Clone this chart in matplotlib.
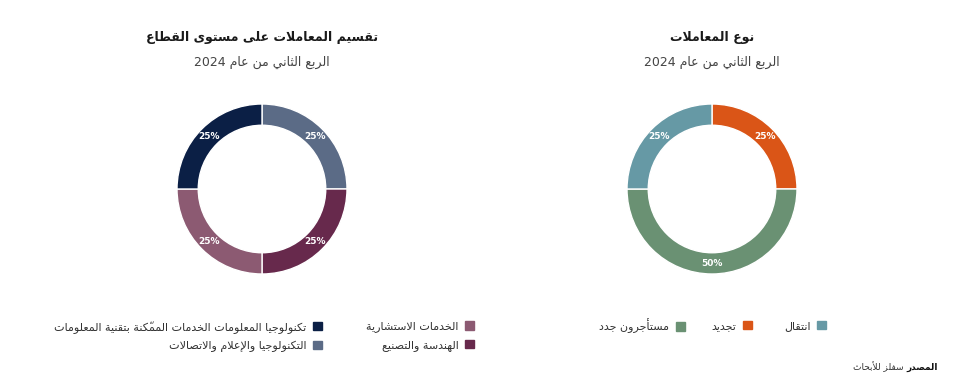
import matplotlib
matplotlib.use('Agg')
import matplotlib.pyplot as plt
from matplotlib.patches import Patch

# --- Arabic shaping: matplotlib draws glyphs left to right without joining,
# so convert to presentation forms and put the string in visual order
DUAL = {0x626: 0xFE89, 0x628: 0xFE8F, 0x62A: 0xFE95, 0x62B: 0xFE99, 0x62C: 0xFE9D,
        0x62D: 0xFEA1, 0x62E: 0xFEA5, 0x633: 0xFEB1, 0x634: 0xFEB5, 0x635: 0xFEB9,
        0x636: 0xFEBD, 0x637: 0xFEC1, 0x638: 0xFEC5, 0x639: 0xFEC9, 0x63A: 0xFECD,
        0x641: 0xFED1, 0x642: 0xFED5, 0x643: 0xFED9, 0x644: 0xFEDD, 0x645: 0xFEE1,
        0x646: 0xFEE5, 0x647: 0xFEE9, 0x64A: 0xFEF1}
RIGHT = {0x622: 0xFE81, 0x623: 0xFE83, 0x624: 0xFE85, 0x625: 0xFE87, 0x627: 0xFE8D,
         0x629: 0xFE93, 0x62F: 0xFEA9, 0x630: 0xFEAB, 0x631: 0xFEAD, 0x632: 0xFEAF,
         0x648: 0xFEED, 0x649: 0xFEEF}
LAMALEF = {0x622: 0xFEF5, 0x623: 0xFEF7, 0x625: 0xFEF9, 0x627: 0xFEFB}


def jtype(b):
    if len(b) > 1:
        return 'R'
    if ord(b) in DUAL:
        return 'D'
    if ord(b) in RIGHT:
        return 'R'
    return 'U'


def ar(text):
    clusters = []
    for ch in text:
        if 0x64B <= ord(ch) <= 0x652 and clusters:
            clusters[-1][1] += ch
        else:
            clusters.append([ch, ''])
    merged = []
    i = 0
    while i < len(clusters):
        b, m = clusters[i]
        if b == '\u0644' and i + 1 < len(clusters) and ord(clusters[i + 1][0]) in LAMALEF:
            merged.append(['L' + clusters[i + 1][0], m + clusters[i + 1][1]])
            i += 2
        else:
            merged.append([b, m])
            i += 1
    out = []
    n = len(merged)
    for i, (b, m) in enumerate(merged):
        t = jtype(b)
        prev = i > 0 and jtype(merged[i - 1][0]) == 'D' and t in 'DR'
        nxt = t == 'D' and i + 1 < n and jtype(merged[i + 1][0]) in 'DR'
        if len(b) > 1:
            g = chr(LAMALEF[ord(b[1])] + (1 if prev else 0))
        elif t == 'D':
            g = chr(DUAL[ord(b)] + (3 if prev and nxt else 2 if nxt else 1 if prev else 0))
        elif t == 'R':
            g = chr(RIGHT[ord(b)] + (1 if prev else 0))
        else:
            g = b
        out.append(g + m)
    # keep runs of latin digits in their own order
    tokens = []
    for tok in out:
        if tok.isascii() and tok.isalnum() and tokens and tokens[-1].isascii() and tokens[-1].isalnum():
            tokens[-1] += tok
        else:
            tokens.append(tok)
    return ''.join(reversed(tokens))


# --- data
sector_labels = ['التكنولوجيا والإعلام والاتصالات', 'الهندسة والتصنيع',
                 'الخدمات الاستشارية',
                 'تكنولوجيا المعلومات الخدمات الممكّنة بتقنية المعلومات']
sector_values = [25, 25, 25, 25]
sector_colors = ['#5b6b86', '#67294c', '#8c5a72', '#0b1f45']

type_labels = ['تجديد', 'مستأجرون جدد', 'انتقال']
type_values = [25, 50, 25]
type_colors = ['#da5517', '#6a9173', '#6699a5']

title_sector = 'تقسيم المعاملات على مستوى القطاع'
title_type = 'نوع المعاملات'
subtitle = 'الربع الثاني من عام 2024'
source_bold = 'المصدر'
source_text = 'سفلز للأبحاث'

W, H = 975, 385
fig = plt.figure(figsize=(W / 100, H / 100), dpi=100)
plt.rcParams['font.family'] = 'DejaVu Sans'


def donut(cx, values, colors):
    r_px, cy = 85, 189
    half = r_px * 1.2
    ax = fig.add_axes([(cx - half) / W, (H - cy - half) / H, 2 * half / W, 2 * half / H])
    wedges, _, autotexts = ax.pie(values, colors=colors, startangle=90, counterclock=False,
                                  autopct='%d%%', pctdistance=0.875,
                                  wedgeprops=dict(width=0.25, edgecolor='white', linewidth=1))
    for t in autotexts:
        t.set_color('white')
        t.set_fontsize(6.5)
        t.set_fontweight('bold')
    ax.set_xlim(-1.2, 1.2)
    ax.set_ylim(-1.2, 1.2)
    return wedges


donut(262, sector_values, sector_colors)
donut(712, type_values, type_colors)

# titles
for cx, title in [(262, title_sector), (712, title_type)]:
    fig.text(cx / W, 1 - 38 / H, ar(title), ha='center', va='center',
             fontsize=9, fontweight='bold', color='#1a1a1a')
    fig.text(cx / W, 1 - 62 / H, ar(subtitle), ha='center', va='center',
             fontsize=9, color='#444444')

# legends: one legend per column, marker to the right of the text
leg_kw = dict(markerfirst=False, frameon=False, fontsize=8, handlelength=0.8,
              handleheight=0.8, handletextpad=0.6, borderaxespad=0, borderpad=0,
              labelspacing=0.7, labelcolor='#333333', loc='center right')


def legend_column(idx, labels, colors, x_right, y_mid):
    fig.legend([Patch(color=colors[i]) for i in idx], [ar(labels[i]) for i in idx],
               bbox_to_anchor=(x_right / W, 1 - y_mid / H), **leg_kw)


legend_column([3, 0], sector_labels, sector_colors, 322, 336)
legend_column([2, 1], sector_labels, sector_colors, 474, 336)
legend_column([2], type_labels, type_colors, 826, 326)
legend_column([0], type_labels, type_colors, 752, 326)
legend_column([1], type_labels, type_colors, 685, 326)

# source
src = fig.text(938 / W, 1 - 367 / H, ar(source_bold), ha='right', va='center',
               fontsize=6.5, fontweight='bold', color='#111111')
plt.annotate(ar(source_text), xy=(0, 0.5), xycoords=src, xytext=(-2, 0),
             textcoords='offset points', ha='right', va='center',
             fontsize=6.5, color='#333333', annotation_clip=False)

fig.savefig('out.png', dpi=100, facecolor='white')
